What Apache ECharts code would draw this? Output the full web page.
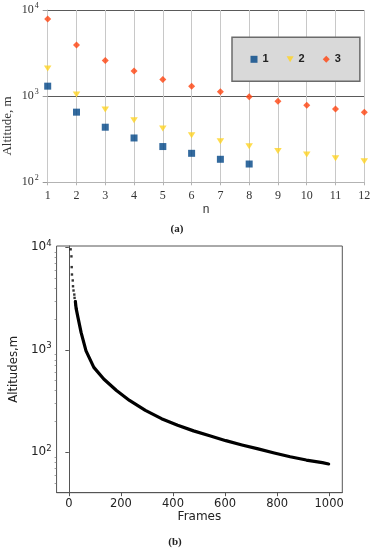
<!DOCTYPE html>
<html><head><meta charset="utf-8">
<script src="https://cdn.jsdelivr.net/npm/echarts@6/dist/echarts.min.js"></script>
<style>html,body{margin:0;padding:0;background:#fff}#c{width:374px;height:550px}</style>
</head><body><div id="c"></div>
<script>
// ---- Chart (a) data ----
const nValues = [1, 2, 3, 4, 5, 6, 7, 8, 9, 10, 11, 12];
const seriesNames = ['1', '2', '3'];
const series1 = [1306, 652, 436, 327, 260, 217, 185, 163];
const series2 = [2100, 1046, 699, 526, 421, 352, 300, 262, 231, 210, 190, 175];
const series3 = [7850, 3920, 2600, 1954, 1563, 1306, 1123, 982, 875, 786, 711, 652];
const topYTicks = [100, 1000, 10000];

// ---- Chart (b) data ----
const dotFrames = [7, 10, 11, 12, 15, 16, 18, 21, 22, 25, 26, 28];
const dotAltitudes = [9560, 8160, 6410, 5430, 4750, 4170, 3790, 3460, 3210, 2960, 2740, 2540];
const curveFrames = [25, 28, 35, 47, 66, 96, 134, 183, 233, 294, 356, 418, 479, 541, 603, 665, 727, 789, 850, 912, 974, 998];
const curveAltitudes = [2960, 2540, 2075, 1480, 978, 674, 520, 401, 321, 257, 213, 184, 162, 145, 130, 118, 108, 98.5, 90.6, 84.1, 79.3, 77];
const bottomXTicks = [0, 200, 400, 600, 800, 1000];
const bottomYTicks = [100, 1000, 10000];
const bottomYMinorTicks = [50, 60, 70, 80, 90, 200, 300, 400, 500, 600, 700, 800, 900,
  2000, 3000, 4000, 5000, 6000, 7000, 8000, 9000];

const SERIF = 'Liberation Serif';
const SANS = 'DejaVu Sans';

function supLabel(v) {
  const e = Math.round(Math.log10(v));
  if (Math.abs(Math.pow(10, e) - v) > 1e-6 * v) return '';
  return '{b|10}{s|' + e + '}';
}
function pairs(xs, ys) { return ys.map((y, i) => [xs[i], y]); }

const chart = echarts.init(document.getElementById('c'), null, {renderer: 'canvas'});
chart.setOption({
  animation: false,
  backgroundColor: '#fff',
  grid: [
    {left: 47.7, top: 10, width: 316.6, height: 172.3},
    {left: 46.3, top: 246, width: 296, height: 246.7, show: true, borderColor: '#555', borderWidth: 1, backgroundColor: 'transparent'}
  ],
  legend: {
    data: seriesNames,
    left: 232, top: 37.3,
    padding: [16.5, 19, 16.5, 18.5],
    backgroundColor: '#d9d9d9',
    borderColor: '#6b6b6b', borderWidth: 1.5,
    itemWidth: 7, itemHeight: 7, itemGap: 18,
    textStyle: {fontFamily: 'Liberation Sans', fontSize: 11, color: '#222', fontWeight: 'bold'}
  },
  xAxis: [
    {
      gridIndex: 0, type: 'value', min: 1, max: 12, interval: 1,
      axisLine: {show: true, lineStyle: {color: '#b3b3b3', width: 1}},
      axisTick: {show: true, length: 3, lineStyle: {color: '#b3b3b3'}},
      splitLine: {show: true, lineStyle: {color: '#c8c8c8', width: 1}},
      axisLabel: {fontFamily: SERIF, fontSize: 12, color: '#333', margin: 8},
      name: 'n', nameLocation: 'middle', nameGap: 19,
      nameTextStyle: {fontFamily: 'Liberation Sans', fontSize: 12, color: '#333'}
    },
    {
      gridIndex: 1, type: 'value', min: -47.1, max: 1050.4,
      axisLine: {show: true, lineStyle: {color: '#555', width: 1}},
      axisTick: {show: true, length: 3.5, customValues: bottomXTicks, lineStyle: {color: '#555'}},
      splitLine: {show: false},
      axisLabel: {customValues: bottomXTicks, formatter: v => String(v), fontFamily: SANS, fontSize: 11.5, color: '#222', margin: 5},
      name: 'Frames', nameLocation: 'middle', nameGap: 18,
      nameTextStyle: {fontFamily: SANS, fontSize: 12, color: '#222'}
    }
  ],
  yAxis: [
    {
      gridIndex: 0, type: 'log', logBase: 10, min: 100, max: 10000,
      axisLine: {show: true, lineStyle: {color: '#c8c8c8'}},
      axisTick: {show: true, length: 5, lineStyle: {color: '#999'}},
      splitLine: {show: true, showMinLine: false, lineStyle: {color: '#5a5a5a', width: 1}},
      axisLabel: {
        formatter: supLabel, margin: 9,
        rich: {
          b: {fontFamily: SERIF, fontSize: 12, color: '#333'},
          s: {fontFamily: SERIF, fontSize: 8, color: '#333', padding: [0, 0, 8, 1]}
        }
      }
    },
    {
      gridIndex: 1, type: 'log', logBase: 10, min: 40.4, max: 10300, position: 'left',
      axisLine: {show: true, lineStyle: {color: '#555'}},
      axisTick: {show: true, length: 3.5, customValues: bottomYTicks, lineStyle: {color: '#555'}},
      splitLine: {show: false},
      axisLabel: {
        customValues: bottomYTicks,
        formatter: supLabel, margin: 5,
        rich: {
          b: {fontFamily: SANS, fontSize: 12, color: '#222'},
          s: {fontFamily: SANS, fontSize: 8.5, color: '#222', padding: [0, 0, 8, 0]}
        }
      },
      name: 'Altitudes,m', nameLocation: 'middle', nameGap: 32,
      nameTextStyle: {fontFamily: SANS, fontSize: 11.7, color: '#222'}
    },
    {
      gridIndex: 1, type: 'log', logBase: 10, min: 40.4, max: 10300, position: 'left', offset: 0,
      axisLine: {show: false},
      axisTick: {show: true, length: 2, customValues: bottomYMinorTicks, lineStyle: {color: '#777', width: 0.7}},
      axisLabel: {show: false, customValues: bottomYMinorTicks},
      splitLine: {show: false}
    }
  ],
  graphic: [
    {type: 'text', x: 8, y: 126, rotation: Math.PI / 2,
      style: {text: 'Altitude, m', fontFamily: SERIF, fontSize: 13, fill: '#333', align: 'center', verticalAlign: 'middle'}},
    {type: 'text', x: 177, y: 228.7,
      style: {text: '(a)', fontFamily: SERIF, fontSize: 11, fontWeight: 'bold', fill: '#222', align: 'center', verticalAlign: 'middle'}},
    {type: 'text', x: 175, y: 541.7,
      style: {text: '(b)', fontFamily: SERIF, fontSize: 11, fontWeight: 'bold', fill: '#222', align: 'center', verticalAlign: 'middle'}}
  ],
  series: [
    {name: seriesNames[0], type: 'scatter', xAxisIndex: 0, yAxisIndex: 0,
      symbol: 'rect', symbolSize: 7, itemStyle: {color: '#004586'},
      data: pairs(nValues, series1)},
    {name: seriesNames[1], type: 'scatter', xAxisIndex: 0, yAxisIndex: 0,
      symbol: 'path://M0,0L10,0L5,8.5Z', symbolSize: [7.5, 6], itemStyle: {color: '#ffd320'},
      data: pairs(nValues, series2)},
    {name: seriesNames[2], type: 'scatter', xAxisIndex: 0, yAxisIndex: 0,
      symbol: 'diamond', symbolSize: 7, itemStyle: {color: '#ff420e'},
      data: pairs(nValues, series3)},
    {name: 'dots', type: 'scatter', xAxisIndex: 1, yAxisIndex: 1,
      symbol: 'rect', symbolSize: 2.4, itemStyle: {color: '#000'},
      data: pairs(dotFrames, dotAltitudes)},
    {name: 'curve', type: 'line', xAxisIndex: 1, yAxisIndex: 1,
      showSymbol: false, smooth: false,
      lineStyle: {color: '#000', width: 3.2, join: 'round', cap: 'round'},
      data: pairs(curveFrames, curveAltitudes)}
  ]
});
</script>
</body></html>
